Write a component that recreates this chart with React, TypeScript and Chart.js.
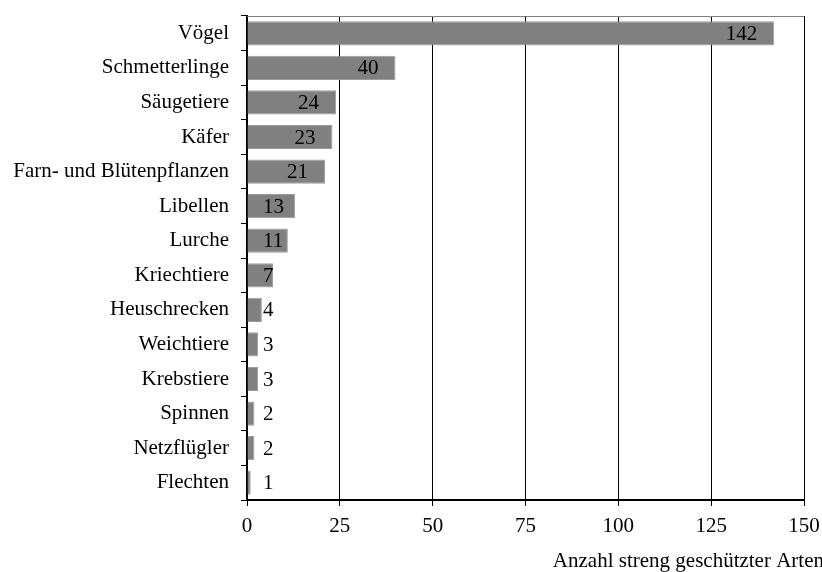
import React, { useEffect, useRef } from "react";
import { Chart, registerables } from "chart.js";

Chart.register(...registerables);

const categories = [
  "Vögel",
  "Schmetterlinge",
  "Säugetiere",
  "Käfer",
  "Farn- und Blütenpflanzen",
  "Libellen",
  "Lurche",
  "Kriechtiere",
  "Heuschrecken",
  "Weichtiere",
  "Krebstiere",
  "Spinnen",
  "Netzflügler",
  "Flechten",
];
const values = [142, 40, 24, 23, 21, 13, 11, 7, 4, 3, 3, 2, 2, 1];
const axisTitle = "Anzahl streng geschützter Arten";
const FONT = "'Liberation Serif', 'Times New Roman', serif";

const overlayPlugin = {
  id: "overlay",
  afterDatasetsDraw(chart: any) {
    const ctx = chart.ctx;
    const area = chart.chartArea;
    const xs = chart.scales.x;
    const meta = chart.getDatasetMeta(0);
    ctx.save();
    // top border
    ctx.strokeStyle = "#808080";
    ctx.lineWidth = 1;
    ctx.beginPath();
    ctx.moveTo(area.left, area.top + 0.5);
    ctx.lineTo(area.right, area.top + 0.5);
    ctx.stroke();
    // value labels
    ctx.font = "21px " + FONT;
    ctx.fillStyle = "#000";
    ctx.textBaseline = "middle";
    ctx.textAlign = "left";
    const x0 = xs.getPixelForValue(0);
    meta.data.forEach((bar: any, i: number) => {
      const text = String(values[i]);
      const w = ctx.measureText(text).width;
      const end = xs.getPixelForValue(values[i]);
      let left = end - 17 - w;
      if (left < x0 + 16) left = x0 + 16;
      ctx.fillText(text, left, bar.y + 1);
    });
    // axis title
    ctx.textAlign = "right";
    ctx.textBaseline = "middle";
    ctx.fillText(axisTitle, chart.width + 2, 561);
    ctx.restore();
  },
};

export default function App() {
  const ref = useRef<HTMLCanvasElement | null>(null);
  useEffect(() => {
    if (!ref.current) return;
    const chart = new Chart(ref.current, {
      type: "bar",
      data: {
        labels: categories,
        datasets: [
          {
            data: values,
            backgroundColor: "#808080",
            borderColor: "#9c9c9c",
            borderWidth: 1,
            barPercentage: 0.7,
            categoryPercentage: 1,
          },
        ],
      },
      options: {
        indexAxis: "y",
        animation: false,
        responsive: false,
        maintainAspectRatio: false,
        layout: { padding: { left: 0, right: 18, top: 16, bottom: 0 } },
        plugins: {
          legend: { display: false },
          tooltip: { enabled: false },
          title: { display: false },
        },
        scales: {
          x: {
            min: 0,
            max: 150,
            ticks: {
              stepSize: 25,
              color: "#000",
              font: { family: FONT, size: 21 },
              padding: 8,
            },
            grid: {
              color: "#000",
              lineWidth: 1,
              tickLength: 6,
              tickColor: "#000",
            },
            border: { display: true, color: "#000", width: 2 },
            afterFit(scale: any) {
              scale.height = 72;
              scale.paddingLeft = 0;
              scale.paddingRight = 0;
            },
          },
          y: {
            ticks: {
              color: "#000",
              font: { family: FONT, size: 21 },
              padding: 12,
            },
            grid: {
              drawOnChartArea: false,
              drawTicks: true,
              tickLength: 6,
              tickColor: "#000",
              color: "#000",
              offset: true,
            },
            border: { display: true, color: "#000", width: 2 },
            afterFit(scale: any) {
              scale.width = 247;
              scale.paddingTop = 0;
              scale.paddingBottom = 0;
            },
          },
        },
      },
      plugins: [overlayPlugin],
    });
    return () => chart.destroy();
  }, []);
  return (
    <div style={{ position: "absolute", left: 0, top: 0, width: 822, height: 572 }}>
      <canvas ref={ref} width={822} height={572} style={{ width: 822, height: 572 }} />
    </div>
  );
}
